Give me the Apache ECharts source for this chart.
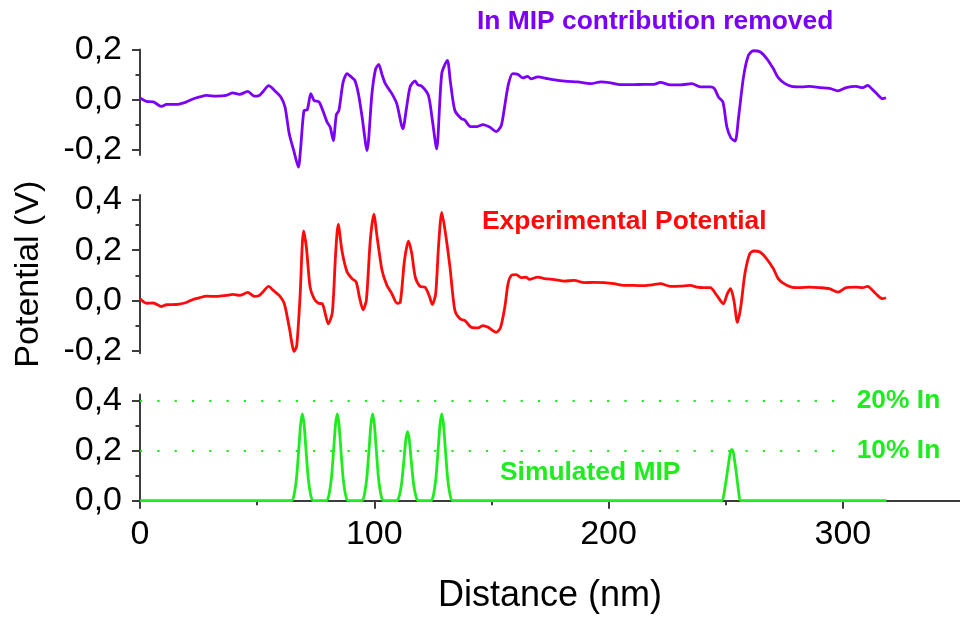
<!DOCTYPE html>
<html>
<head>
<meta charset="utf-8">
<script src="https://cdn.jsdelivr.net/npm/echarts@6/dist/echarts.min.js"></script>
<style>
  html, body { margin: 0; padding: 0; background: #fff; }
  #chart { width: 960px; height: 622px; }
</style>
</head>
<body>
<div id="chart"></div>
<script>
// Distance axis (nm)
const xMajorTicks = [0, 100, 200, 300];
const xMinorTicks = [50, 150, 250];

// Potential axes (V) for the three stacked panels
const topMajorTicks = [-0.2, 0, 0.2];
const topMinorTicks = [-0.1, 0.1];
const midMajorTicks = [-0.2, 0, 0.2, 0.4];
const midMinorTicks = [-0.1, 0.1, 0.3];
const botMajorTicks = [0, 0.2, 0.4];
const botMinorTicks = [0.1, 0.3];

// Reference indium levels drawn as dotted guides in the MIP panel
const inLevelValues = [0.4, 0.2];
const inLevelLabels = ['20% In', '10% In'];
const inLevelEnd = 296.5;

// In MIP contribution removed: [distance nm, potential V]
const mipRemoved = [
  [0,0.007],[2.8,-0.007],[5.7,-0.009],[9.2,-0.027],[11.3,-0.019],[15.6,-0.019],[19.8,-0.009],
  [22.6,0.003],[25.5,0.011],[28.3,0.017],[32.6,0.014],[36.8,0.017],[39.6,0.027],[42.5,0.021],
  [46,0.033],[48.8,0.014],[50.9,0.017],[52.4,0.031],[54.9,0.056],[57.4,0.037],[60.1,0.011],
  [61.9,-0.029],[63.7,-0.136],[65.8,-0.209],[67.6,-0.269],[68.6,-0.189],[70,-0.043],[71.4,-0.04],
  [72.9,0.024],[74.3,-0.003],[76.4,-0.009],[78.1,-0.045],[79.9,-0.09],[81.2,-0.11],[82.5,-0.163],
  [83.8,-0.06],[84.9,-0.043],[86.7,0.07],[88.4,0.104],[90.2,0.09],[91.7,0.077],[93.3,0.02],
  [94.8,-0.069],[96.9,-0.203],[99,0.024],[100.5,0.12],[101.9,0.141],[103.3,0.1],[104.7,0.064],
  [107.5,0.024],[109.6,-0.016],[112.2,-0.116],[113.8,-0.03],[115.3,0.051],[117.4,0.075],[118.5,0.06],
  [120.3,0.054],[123.1,0.017],[124.8,-0.083],[126.6,-0.196],[128.8,0.104],[131.2,0.157],[132.5,0.07],
  [134.4,-0.043],[137.2,-0.076],[138.5,-0.08],[141.1,-0.107],[143.9,-0.107],[146.4,-0.099],
  [149.2,-0.109],[152.1,-0.127],[154.2,-0.103],[155.6,-0.029],[157.3,0.064],[159.1,0.104],
  [161.3,0.101],[163.4,0.087],[165.5,0.093],[166.9,0.083],[169.8,0.091],[174,0.084],[178.3,0.077],
  [182.5,0.073],[186.8,0.071],[192.4,0.064],[196.7,0.071],[200.9,0.067],[205.2,0.06],[210.8,0.06],
  [215.1,0.061],[219.3,0.061],[222.1,0.069],[226.4,0.059],[230.6,0.059],[235.6,0.064],[239.1,0.051],
  [243.4,0.051],[245.1,0.045],[246.9,0.011],[248.8,-0.009],[250.5,-0.109],[252.2,-0.152],[254,-0.165],
  [255.5,-0.069],[257.6,0.091],[259.7,0.177],[261.8,0.195],[264.6,0.191],[267.5,0.164],[270.3,0.124],
  [272.4,0.088],[275.3,0.064],[278.1,0.053],[282.4,0.051],[285.9,0.053],[290.2,0.048],[294.4,0.045],
  [297.9,0.035],[301.4,0.048],[305.6,0.053],[308.5,0.048],[310.6,0.057],[312.7,0.04],[314.8,0.021],
  [316.9,0.004],[318.4,0.007]
];

// Experimental potential: [distance nm, potential V]
const experimental = [
  [0,0.007],[2.8,-0.011],[5.7,-0.01],[9.2,-0.024],[11.3,-0.017],[15.6,-0.016],[19.8,-0.008],
  [22.6,0.004],[25.5,0.011],[28.3,0.017],[32.6,0.016],[36.8,0.02],[39.6,0.024],[42.5,0.02],
  [46,0.032],[48.8,0.016],[50.9,0.02],[52.4,0.033],[54.9,0.056],[56.9,0.04],[59.4,0.02],
  [61.6,-0.013],[63.7,-0.107],[65.8,-0.203],[66.9,-0.18],[68.3,0.013],[69.8,0.277],[71,0.213],
  [72.6,0.053],[74.3,0.007],[76.1,-0.011],[77.8,-0.013],[80.4,-0.093],[82.1,-0.047],[83.5,0.187],
  [84.6,0.303],[86.3,0.193],[88.4,0.113],[90.5,0.087],[92.3,0.073],[93.8,0.007],[95.2,-0.037],
  [96.6,0.0],[98.3,0.24],[99.8,0.344],[101.2,0.253],[103.3,0.12],[105.4,0.06],[107.5,0.027],
  [109.7,-0.011],[111.1,-0.007],[112.9,0.16],[114.6,0.236],[116,0.187],[117.5,0.093],[119.6,0.056],
  [121.7,0.053],[123.4,0.02],[124.8,-0.016],[126.2,0.027],[127.4,0.213],[128.8,0.351],[130.4,0.267],
  [132.3,0.133],[134.4,-0.04],[136.6,-0.073],[138.7,-0.08],[141.5,-0.107],[144.3,-0.109],
  [146.4,-0.1],[148.6,-0.107],[152.1,-0.127],[153.9,-0.107],[155.7,-0.027],[157.1,0.067],
  [158.5,0.1],[160.6,0.103],[162.7,0.091],[164.8,0.093],[166.2,0.084],[169.8,0.093],[172.6,0.087],
  [176.9,0.083],[181.1,0.077],[185.3,0.08],[189.6,0.071],[193.8,0.072],[198.1,0.071],[202.3,0.067],
  [206.6,0.06],[210.8,0.06],[215.1,0.059],[219.3,0.063],[222.1,0.067],[226.4,0.056],[230.6,0.057],
  [234.9,0.06],[237.7,0.053],[240.5,0.051],[243.4,0.051],[246.2,0.02],[249,-0.013],[250.7,0.027],
  [252.1,0.047],[253.5,0.0],[255,-0.087],[256.4,-0.027],[258.2,0.107],[260.3,0.187],[262,0.197],
  [264.6,0.193],[267.4,0.167],[270.3,0.127],[272.4,0.087],[274.5,0.069],[278,0.053],[281.5,0.051],
  [285.7,0.053],[290,0.051],[294.2,0.047],[297.9,0.033],[301.4,0.051],[305.6,0.053],[308.5,0.051],
  [310.6,0.056],[312.7,0.04],[314.8,0.02],[316.9,0.007],[318.4,0.011]
];

// Simulated MIP: [distance nm, potential V]
const simulatedMip = [
  [0,0],[64.8,0],[65.8,0.025],[66.8,0.09],[67.8,0.21],[68.55,0.305],[69.3,0.347],[70.05,0.305],
  [70.8,0.21],[71.8,0.09],[72.8,0.025],[73.8,0],
  [79.7,0],[80.7,0.025],[81.7,0.09],[82.7,0.21],[83.45,0.305],[84.2,0.347],[84.95,0.305],
  [85.7,0.21],[86.7,0.09],[87.7,0.025],[88.7,0],
  [94.8,0],[95.8,0.025],[96.8,0.09],[97.8,0.21],[98.55,0.305],[99.3,0.347],[100.05,0.305],
  [100.8,0.21],[101.8,0.09],[102.8,0.025],[103.8,0],
  [109.7,0],[110.7,0.02],[111.7,0.072],[112.7,0.167],[113.45,0.243],[114.2,0.276],[114.95,0.243],
  [115.7,0.167],[116.7,0.072],[117.7,0.02],[118.7,0],
  [124.3,0],[125.3,0.025],[126.3,0.09],[127.3,0.21],[128.05,0.305],[128.8,0.347],[129.55,0.305],
  [130.3,0.21],[131.3,0.09],[132.3,0.025],[133.3,0],
  [248.3,0],[249.3,0.03],[250.3,0.09],[251.3,0.155],[252,0.195],[252.6,0.205],[253.2,0.195],
  [253.9,0.155],[254.8,0.09],[255.6,0.03],[256.4,0],[318.6,0]
];

const PURPLE = '#7b00f5';
const RED = '#ff0a0a';
const GREEN = '#1fec1f';
const AXIS = '#3c3c3c';
const TICK_FONT = 'Liberation Sans';

const fmtV = v => (Math.abs(v) < 1e-9 ? 0 : v).toFixed(1).replace('.', ',');

function mainY(grid, min, max, ticks, extra) {
  return Object.assign({
    gridIndex: grid, type: 'value', position: 'left', min, max,
    axisLine: { show: true, onZero: false, lineStyle: { color: AXIS, width: 2 } },
    axisTick: { show: true, customValues: ticks, length: 8, lineStyle: { color: AXIS, width: 2 } },
    axisLabel: { customValues: ticks, formatter: fmtV, margin: 18, color: '#000',
                 fontSize: 34, fontFamily: TICK_FONT },
    splitLine: { show: false }
  }, extra || {});
}
function minorY(grid, min, max, ticks) {
  return {
    gridIndex: grid, type: 'value', position: 'left', min, max,
    axisLine: { show: false },
    axisTick: { show: true, customValues: ticks, length: 4.5, lineStyle: { color: AXIS, width: 2 } },
    axisLabel: { show: false }, splitLine: { show: false }
  };
}
function hiddenX(grid) {
  return { gridIndex: grid, type: 'value', min: 0, max: 350, show: false };
}

const chart = echarts.init(document.getElementById('chart'), null, { renderer: 'canvas' });
chart.setOption({
  animation: false,
  backgroundColor: '#fff',
  grid: [
    { left: 140, width: 824, top: 49.5, height: 105.4 },
    { left: 140, width: 824, top: 195, height: 158.2 },
    { left: 140, width: 824, top: 394.5, height: 106.2 }
  ],
  xAxis: [
    hiddenX(0),
    hiddenX(1),
    {
      gridIndex: 2, type: 'value', position: 'bottom', min: 0, max: 350,
      axisLine: { show: true, onZero: false, lineStyle: { color: AXIS, width: 2 } },
      axisTick: { show: true, customValues: xMajorTicks, length: 8, lineStyle: { color: AXIS, width: 2 } },
      axisLabel: { customValues: xMajorTicks, margin: 17, color: '#000', fontSize: 34, fontFamily: TICK_FONT },
      splitLine: { show: false },
      name: 'Distance (nm)', nameLocation: 'middle', nameGap: 77,
      nameTextStyle: { color: '#000', fontSize: 36, fontFamily: TICK_FONT }
    },
    {
      gridIndex: 2, type: 'value', position: 'bottom', min: 0, max: 350,
      axisLine: { show: false },
      axisTick: { show: true, customValues: xMinorTicks, length: 4.5, lineStyle: { color: AXIS, width: 2 } },
      axisLabel: { show: false }, splitLine: { show: false }
    }
  ],
  yAxis: [
    mainY(0, -0.22, 0.2, topMajorTicks),
    minorY(0, -0.22, 0.2, topMinorTicks),
    mainY(1, -0.21, 0.42, midMajorTicks, {
      name: 'Potential (V)', nameLocation: 'middle', nameGap: 94,
      nameTextStyle: { color: '#000', fontSize: 34, fontFamily: TICK_FONT }
    }),
    minorY(1, -0.21, 0.42, midMinorTicks),
    mainY(2, 0, 0.425, botMajorTicks),
    minorY(2, 0, 0.425, botMinorTicks)
  ],
  series: [
    {
      name: 'In MIP contribution removed', type: 'line', xAxisIndex: 0, yAxisIndex: 0,
      data: mipRemoved, showSymbol: false, smooth: 0.25, clip: false,
      lineStyle: { color: PURPLE, width: 2.8 }
    },
    {
      name: 'Experimental Potential', type: 'line', xAxisIndex: 1, yAxisIndex: 2,
      data: experimental, showSymbol: false, smooth: 0.25, clip: false,
      lineStyle: { color: RED, width: 2.8 }
    },
    {
      name: 'Simulated MIP', type: 'line', xAxisIndex: 2, yAxisIndex: 4,
      data: simulatedMip, showSymbol: false, smooth: 0.2, clip: false,
      lineStyle: { color: GREEN, width: 2.8 },
      markLine: {
        silent: true, symbol: 'none', animation: false,
        lineStyle: { color: GREEN, type: [2.2, 15.1], width: 2.2 },
        label: {
          show: true, position: 'end', distance: 22, formatter: '{b}',
          color: GREEN, fontSize: 26.4, fontWeight: 'bold', fontFamily: TICK_FONT
        },
        data: inLevelValues.map((v, i) => [
          { coord: [0, v], name: inLevelLabels[i] },
          { coord: [inLevelEnd, v] }
        ])
      }
    }
  ],
  graphic: [
    { type: 'text', x: 477, y: 22.2,
      style: { text: 'In MIP contribution removed', fill: PURPLE, verticalAlign: 'middle',
               font: 'bold 26.4px "Liberation Sans"' } },
    { type: 'text', x: 482, y: 222.2,
      style: { text: 'Experimental Potential', fill: RED, verticalAlign: 'middle',
               font: 'bold 26.4px "Liberation Sans"' } },
    { type: 'text', x: 500, y: 472.5,
      style: { text: 'Simulated MIP', fill: GREEN, verticalAlign: 'middle',
               font: 'bold 26.4px "Liberation Sans"' } }
  ]
});
</script>
</body>
</html>
